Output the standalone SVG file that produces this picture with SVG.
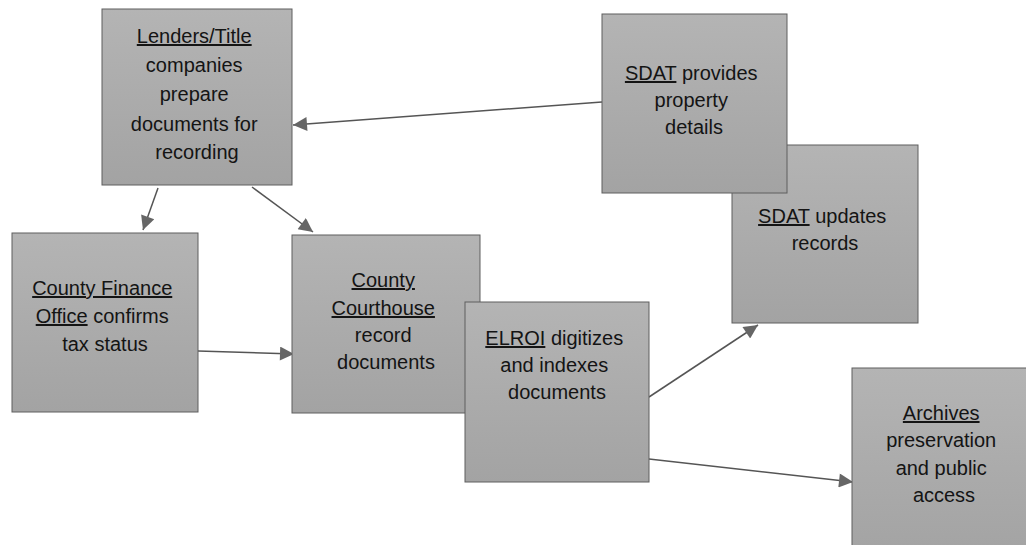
<svg xmlns="http://www.w3.org/2000/svg" width="1026" height="545" viewBox="0 0 1026 545">
  <defs>
    <linearGradient id="boxfill" x1="0" y1="0" x2="0" y2="1">
      <stop offset="0" stop-color="#b4b4b4"/>
      <stop offset="1" stop-color="#a3a3a3"/>
    </linearGradient>
    <marker id="arrow" viewBox="0 0 10 10" refX="10" refY="5" markerWidth="16" markerHeight="14" markerUnits="userSpaceOnUse" orient="auto">
      <path d="M0,0 L10,5 L0,10 Z" fill="#666666"/>
    </marker>
  </defs>
  <style>
    .box { fill: url(#boxfill); stroke: #5e5e5e; stroke-width: 1; }
    .lbl { font-family: "Liberation Sans", Arial, sans-serif; font-size: 20px; fill: #141414; text-anchor: middle; }
    .u { text-decoration: underline; }
    .conn { stroke: #555555; stroke-width: 1.5; fill: none; marker-end: url(#arrow); }
  </style>
  <rect width="1026" height="545" fill="#ffffff"/>

  <g id="connectors">
    <line class="conn" x1="602" y1="102" x2="293" y2="125"/>
    <line class="conn" x1="158" y1="188" x2="143" y2="230"/>
    <line class="conn" x1="252" y1="187" x2="313" y2="232"/>
    <line class="conn" x1="198" y1="351" x2="294" y2="354"/>
    <line class="conn" x1="649" y1="397" x2="758" y2="325"/>
    <line class="conn" x1="649" y1="459" x2="853" y2="482"/>
  </g>

  <g id="node-lenders">
    <rect class="box" x="102" y="9" width="190" height="176"/>
    <text class="lbl">
      <tspan x="197" y="43" class="u">Lenders/Title</tspan>
      <tspan x="197" y="72">companies</tspan>
      <tspan x="197" y="101">prepare</tspan>
      <tspan x="197" y="131">documents for</tspan>
      <tspan x="197" y="159">recording</tspan>
    </text>
  </g>

  <g id="node-sdat-updates">
    <rect class="box" x="732" y="145" width="186" height="178"/>
    <text class="lbl">
      <tspan x="825" y="223"><tspan class="u">SDAT</tspan> updates</tspan>
      <tspan x="825" y="250">records</tspan>
    </text>
  </g>

  <g id="node-sdat-provides">
    <rect class="box" x="602" y="14" width="185" height="179"/>
    <text class="lbl">
      <tspan x="694" y="80"><tspan class="u">SDAT</tspan> provides</tspan>
      <tspan x="694" y="107">property</tspan>
      <tspan x="694" y="134">details</tspan>
    </text>
  </g>

  <g id="node-finance">
    <rect class="box" x="12" y="233" width="186" height="179"/>
    <text class="lbl">
      <tspan x="105" y="295" class="u">County Finance</tspan>
      <tspan x="105" y="323"><tspan class="u">Office</tspan> confirms</tspan>
      <tspan x="105" y="351">tax status</tspan>
    </text>
  </g>

  <g id="node-courthouse">
    <rect class="box" x="292" y="235" width="188" height="178"/>
    <text class="lbl">
      <tspan x="386" y="287" class="u">County</tspan>
      <tspan x="386" y="315" class="u">Courthouse</tspan>
      <tspan x="386" y="342">record</tspan>
      <tspan x="386" y="369">documents</tspan>
    </text>
  </g>

  <g id="node-elroi">
    <rect class="box" x="465" y="302" width="184" height="180"/>
    <text class="lbl">
      <tspan x="557" y="345"><tspan class="u">ELROI</tspan> digitizes</tspan>
      <tspan x="557" y="372">and indexes</tspan>
      <tspan x="557" y="399">documents</tspan>
    </text>
  </g>

  <g id="node-archives">
    <rect class="box" x="852" y="368" width="186" height="190"/>
    <text class="lbl">
      <tspan x="944" y="420" class="u">Archives</tspan>
      <tspan x="944" y="447">preservation</tspan>
      <tspan x="944" y="475">and public</tspan>
      <tspan x="944" y="502">access</tspan>
    </text>
  </g>
</svg>
